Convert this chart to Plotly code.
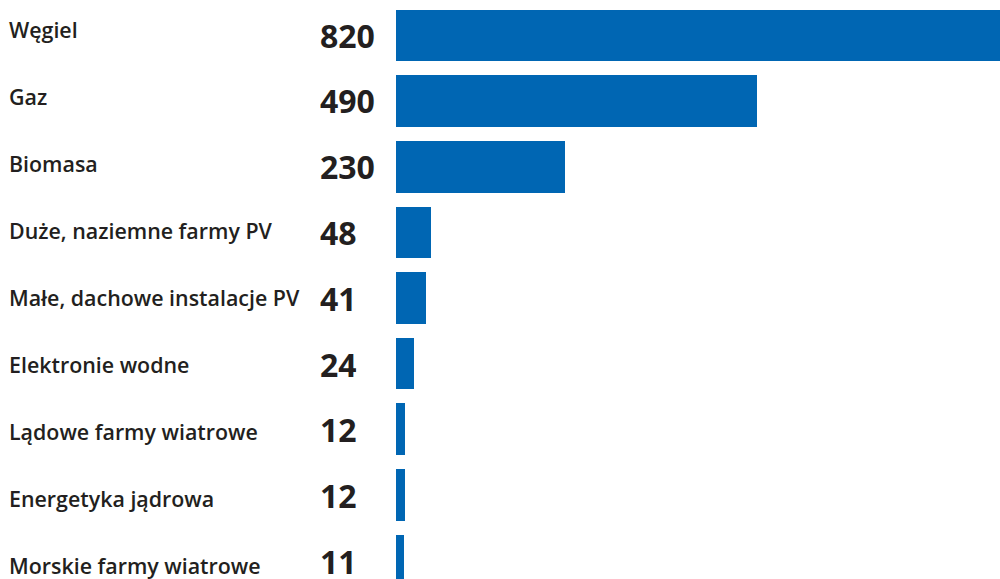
import plotly.graph_objects as go

# Energy sources and their values
categories = [
    "Węgiel",
    "Gaz",
    "Biomasa",
    "Duże, naziemne farmy PV",
    "Małe, dachowe instalacje PV",
    "Elektronie wodne",
    "Lądowe farmy wiatrowe",
    "Energetyka jądrowa",
    "Morskie farmy wiatrowe",
]
values = [820, 490, 230, 48, 41, 24, 12, 12, 11]

BAR_COLOR = "#0066b3"
TEXT_COLOR = "#231f20"
FONT = "Open Sans"

n = len(categories)
idx = list(range(n))

fig = go.Figure()
fig.add_trace(go.Bar(
    x=values,
    y=idx,
    orientation="h",
    marker=dict(color=BAR_COLOR, line=dict(width=0)),
    width=0.785,
    hoverinfo="skip",
))

annotations = []
# Category names (left column), placed on a helper axis with slightly wider spacing
for i, name in enumerate(categories):
    annotations.append(dict(
        x=0.007, xref="paper", xanchor="left",
        y=i, yref="y2", yanchor="middle",
        text=name, showarrow=False,
        font=dict(family=FONT, size=21.4, color=TEXT_COLOR, weight=600),
    ))
# Value labels
for i, v in enumerate(values):
    annotations.append(dict(
        x=0.318, xref="paper", xanchor="left",
        y=i, yref="y3", yanchor="middle",
        height=32, valign="middle",
        text=str(v), showarrow=False,
        font=dict(family=FONT, size=32, color=TEXT_COLOR, weight=700),
    ))

fig.update_layout(
    width=1000, height=579,
    margin=dict(l=0, r=0, t=0, b=0),
    paper_bgcolor="white", plot_bgcolor="white",
    showlegend=False,
    bargap=0,
    xaxis=dict(domain=[0.396, 1.0], range=[0, 820], visible=False, fixedrange=True),
    yaxis=dict(range=[(579 - 35.6) / 65.6, -35.6 / 65.6], visible=False, fixedrange=True),
    yaxis2=dict(range=[(579 - 29) / 67.0, -29 / 67.0], visible=False, overlaying="y", fixedrange=True),
    yaxis3=dict(range=[(579 - 34.5) / 65.8, -34.5 / 65.8], visible=False, overlaying="y", fixedrange=True),
    annotations=annotations,
)

fig.write_html("out.html")
